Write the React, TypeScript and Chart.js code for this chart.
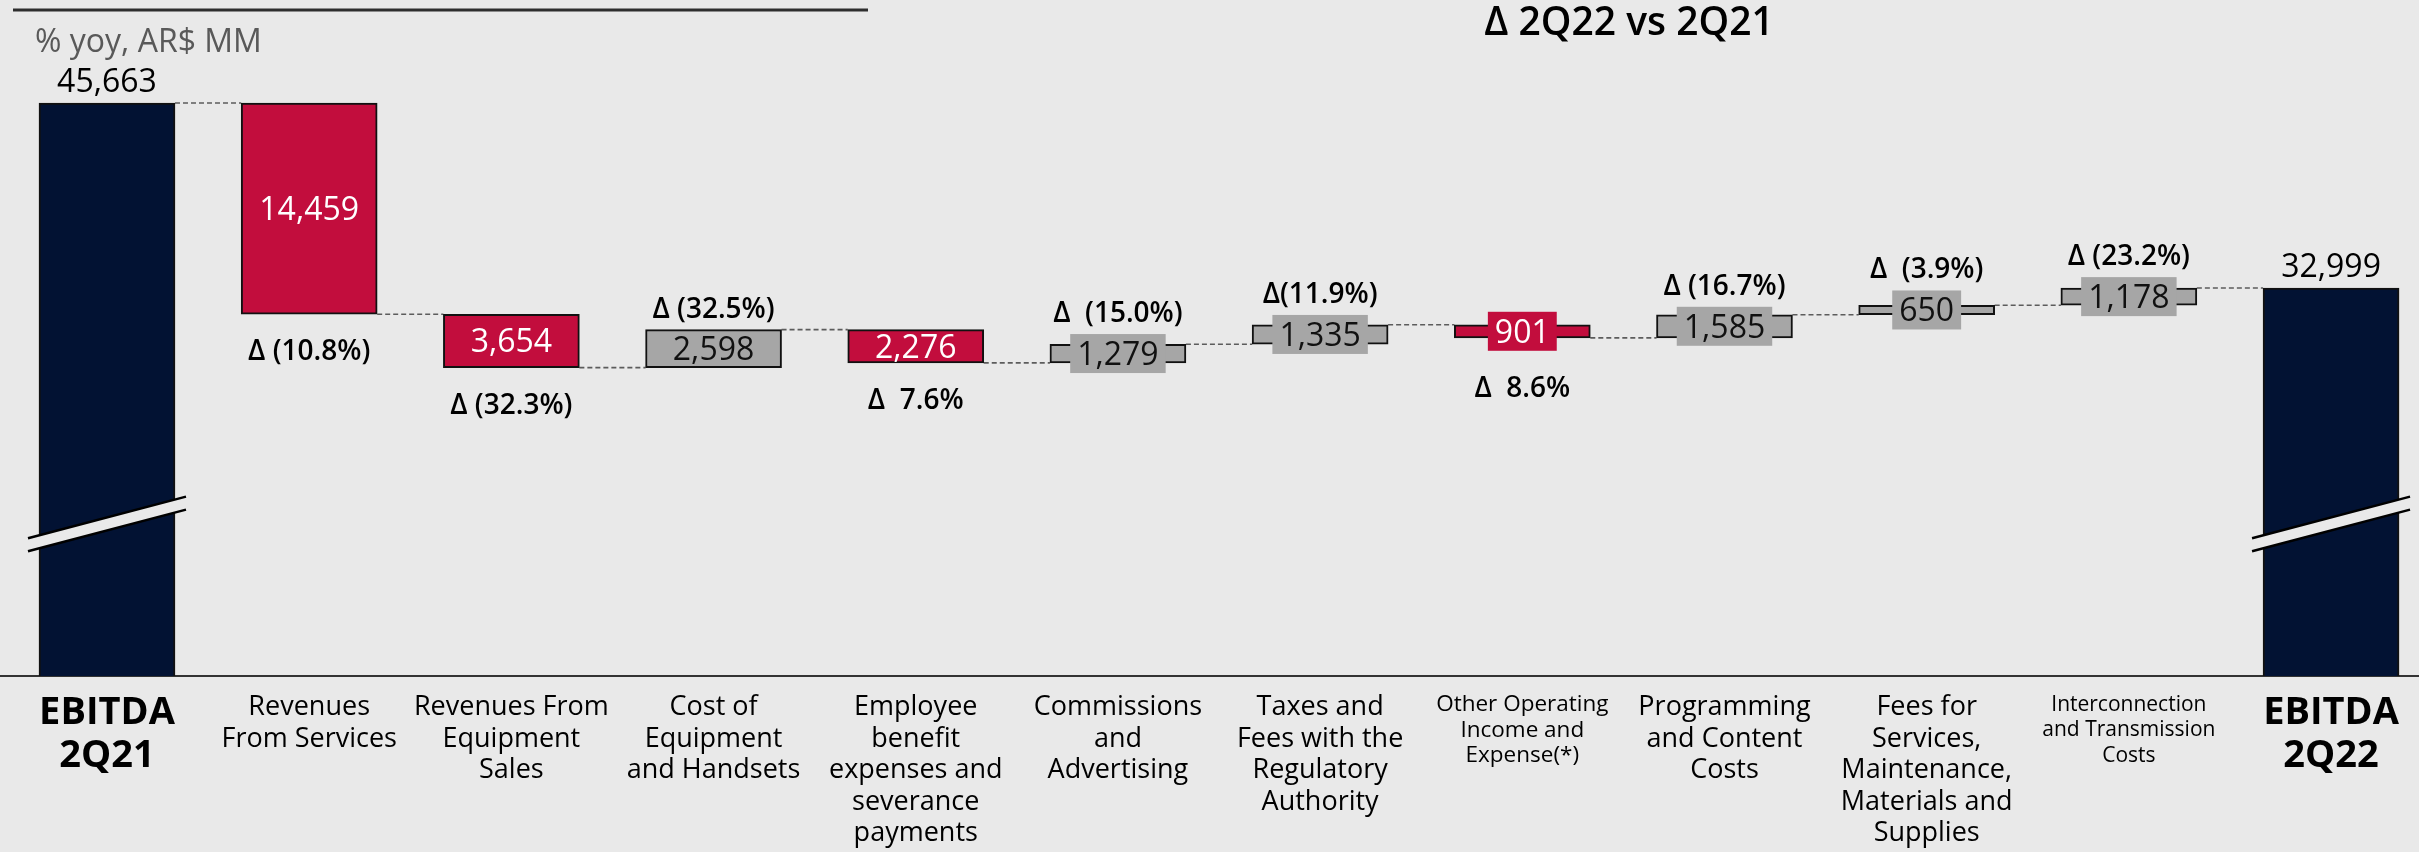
import React, { useEffect, useRef } from "react";
import { Chart, registerables } from "chart.js";

Chart.register(...registerables);

// ---------------- data ----------------
const categoryLabels: string[][] = [
  ["EBITDA", "2Q21"],
  ["Revenues", "From Services"],
  ["Revenues From", "Equipment", "Sales"],
  ["Cost of", "Equipment", "and Handsets"],
  ["Employee", "benefit", "expenses and", "severance", "payments"],
  ["Commissions", "and", "Advertising"],
  ["Taxes and", "Fees with the", "Regulatory", "Authority"],
  ["Other Operating", "Income and", "Expense(*)"],
  ["Programming", "and Content", "Costs"],
  ["Fees for", "Services,", "Maintenance,", "Materials and", "Supplies"],
  ["Interconnection", "and Transmission", "Costs"],
  ["EBITDA", "2Q22"],
];
const ebitdaStart = 45663;
const ebitdaEnd = 32999;
const deltaValues: number[] = [-14459, -3654, 2598, -2276, 1279, 1335, -901, 1585, 650, 1178];
const deltaPctLabels: string[] = [
  "Δ (10.8%)",
  "Δ (32.3%)",
  "Δ (32.5%)",
  "Δ  7.6%",
  "Δ  (15.0%)",
  "Δ(11.9%)",
  "Δ  8.6%",
  "Δ (16.7%)",
  "Δ  (3.9%)",
  "Δ (23.2%)",
];
const chartTitle = "Δ 2Q22 vs 2Q21";
const unitLabel = "% yoy, AR$ MM";

// ---------------- styling ----------------
const W = 2419;
const H = 852;
const FONT = "'Open Sans', 'Noto Sans', sans-serif";
const BG = "#e9e9e9";
const NAVY = "#021233";
const RED = "#C20D3D";
const GRAY = "#A6A6A6";
const Y_MIN = 6438;
const Y_MAX = 52714;
const X_MIN = -0.5292;
const X_MAX = 11.435;
const BREAK_VALUE = 16850;
const BREAK_SLOPE = -0.263;
const SMALL_LABEL_SIZE: Record<number, number> = { 7: 22.5, 10: 21 };

// ---------------- derived ----------------
type Kind = "total" | "neg" | "pos";
const kinds: Kind[] = [];
const floating: [number, number][] = [];
const levels: number[] = [];
floating.push([0, ebitdaStart]);
kinds.push("total");
levels.push(ebitdaStart);
let running = ebitdaStart;
deltaValues.forEach((d) => {
  floating.push([running, running + d]);
  running += d;
  kinds.push(d < 0 ? "neg" : "pos");
  levels.push(running);
});
floating.push([0, ebitdaEnd]);
kinds.push("total");
levels.push(ebitdaEnd);

const valueLabels = [ebitdaStart, ...deltaValues.map((v) => Math.abs(v)), ebitdaEnd].map((v) =>
  v.toLocaleString("en-US")
);
const barColors = kinds.map((k) => (k === "total" ? NAVY : k === "neg" ? RED : GRAY));

const overlayPlugin = {
  id: "waterfallOverlay",
  beforeDatasetsDraw(chart: any) {
    const ctx = chart.ctx;
    const meta = chart.getDatasetMeta(0);
    const ys = chart.scales.y;
    ctx.save();
    ctx.strokeStyle = "#5c5c5c";
    ctx.lineWidth = 1.6;
    ctx.setLineDash([5, 3]);
    for (let i = 0; i < meta.data.length - 1; i++) {
      const a = meta.data[i];
      const b = meta.data[i + 1];
      const yy = ys.getPixelForValue(levels[i]);
      ctx.beginPath();
      ctx.moveTo(a.x + a.width / 2, yy);
      ctx.lineTo(b.x - b.width / 2, yy);
      ctx.stroke();
    }
    ctx.restore();
  },
  afterDatasetsDraw(chart: any) {
    const ctx = chart.ctx;
    const meta = chart.getDatasetMeta(0);
    const ys = chart.scales.y;
    ctx.save();

    // axis-break marks on the total bars
    kinds.forEach((k, i) => {
      if (k !== "total") return;
      const el = meta.data[i];
      const yc = ys.getPixelForValue(BREAK_VALUE);
      const x0 = el.x - el.width / 2 - 11;
      const x1 = el.x + el.width / 2 + 11;
      const f = (x: number, off: number) => yc + off + (x - el.x) * BREAK_SLOPE;
      ctx.fillStyle = BG;
      ctx.beginPath();
      ctx.moveTo(x0, f(x0, -6.5));
      ctx.lineTo(x1, f(x1, -6.5));
      ctx.lineTo(x1, f(x1, 6.5));
      ctx.lineTo(x0, f(x0, 6.5));
      ctx.closePath();
      ctx.fill();
      ctx.strokeStyle = "#000";
      ctx.lineWidth = 2.5;
      ctx.beginPath();
      ctx.moveTo(x0, f(x0, -6.5));
      ctx.lineTo(x1, f(x1, -6.5));
      ctx.moveTo(x0, f(x0, 6.5));
      ctx.lineTo(x1, f(x1, 6.5));
      ctx.stroke();
    });

    // value labels
    ctx.textAlign = "center";
    ctx.textBaseline = "alphabetic";
    const boxH = 39;
    kinds.forEach((k, i) => {
      const el = meta.data[i];
      const top = Math.min(el.y, el.base);
      const bottom = Math.max(el.y, el.base);
      ctx.font = `400 32px ${FONT}`;
      if (k === "total") {
        ctx.fillStyle = "#000";
        ctx.fillText(valueLabels[i], el.x, top - 11);
        return;
      }
      const cy = (top + bottom) / 2;
      const w = ctx.measureText(valueLabels[i]).width;
      const needBox = bottom - top < 30;
      let lo = top;
      let hi = bottom;
      if (needBox) {
        ctx.fillStyle = barColors[i];
        ctx.fillRect(el.x - w / 2 - 7, cy - boxH / 2, w + 14, boxH);
        lo = Math.min(lo, cy - boxH / 2);
        hi = Math.max(hi, cy + boxH / 2);
      }
      ctx.fillStyle = k === "neg" ? "#ffffff" : "#111111";
      ctx.fillText(valueLabels[i], el.x, cy + 11.4);

      // delta % label
      ctx.font = `600 28px ${FONT}`;
      ctx.fillStyle = "#000000";
      const pct = deltaPctLabels[i - 1];
      if (k === "neg") {
        const c = hi + 36;
        ctx.fillText(pct, el.x, c + 10);
      } else {
        const c = lo - 22;
        ctx.fillText(pct, el.x, c + 10);
      }
    });
    ctx.restore();
  },
  afterDraw(chart: any) {
    const ctx = chart.ctx;
    ctx.save();
    ctx.fillStyle = "#2e2e2e";
    ctx.fillRect(13, 8.5, 855, 3);
    ctx.textBaseline = "alphabetic";
    ctx.textAlign = "center";
    ctx.font = `600 39px ${FONT}`;
    ctx.fillStyle = "#000";
    ctx.fillText(chartTitle, 1629, 35);
    ctx.textAlign = "left";
    ctx.font = `400 32px ${FONT}`;
    ctx.fillStyle = "#595959";
    ctx.fillText(unitLabel, 35, 52);
    ctx.restore();
  },
};

export default function App() {
  const ref = useRef<HTMLCanvasElement | null>(null);
  useEffect(() => {
    if (!ref.current) return;
    const chart = new Chart(ref.current, {
      type: "bar",
      data: {
        datasets: [
          {
            data: floating.map((y, i) => ({ x: i, y })) as any,
            backgroundColor: barColors,
            borderColor: "#111111",
            borderWidth: 2,
            borderSkipped: false,
            barThickness: 136,
          },
        ],
      },
      options: {
        responsive: false,
        animation: false,
        devicePixelRatio: 1,
        layout: { padding: 0 },
        plugins: {
          legend: { display: false },
          tooltip: { enabled: false },
          title: { display: false },
        },
        scales: {
          x: {
            type: "linear",
            min: X_MIN,
            max: X_MAX,
            offset: false,
            bounds: "data",
            z: 1,
            grid: { display: false },
            border: { display: true, color: "#333333", width: 2 },
            afterBuildTicks: (s: any) => {
              s.ticks = categoryLabels.map((_, i) => ({ value: i }));
            },
            afterFit: (s: any) => {
              s.height = H - 676;
            },
            ticks: {
              autoSkip: false,
              maxRotation: 0,
              minRotation: 0,
              padding: 8,
              color: "#000000",
              callback: (v: any) => categoryLabels[Math.round(Number(v))] || "",
              font: (c: any) => {
                const i = c.index;
                if (kinds[i] === "total") {
                  return { family: FONT, size: 38, weight: "bold", lineHeight: "43px" } as any;
                }
                if (SMALL_LABEL_SIZE[i]) {
                  return { family: FONT, size: SMALL_LABEL_SIZE[i], weight: 500, lineHeight: "25.5px" } as any;
                }
                return { family: FONT, size: 27, weight: 500, lineHeight: "31.5px" } as any;
              },
            } as any,
          } as any,
          y: {
            type: "linear",
            display: false,
            min: Y_MIN,
            max: Y_MAX,
            bounds: "data",
          } as any,
        },
      },
      plugins: [overlayPlugin],
    });
    return () => chart.destroy();
  }, []);

  return (
    <div
      style={{
        position: "fixed",
        left: 0,
        top: 0,
        width: W,
        height: H,
        background: BG,
        overflow: "hidden",
      }}
    >
      <canvas ref={ref} width={W} height={H} style={{ display: "block", width: W, height: H }} />
    </div>
  );
}
